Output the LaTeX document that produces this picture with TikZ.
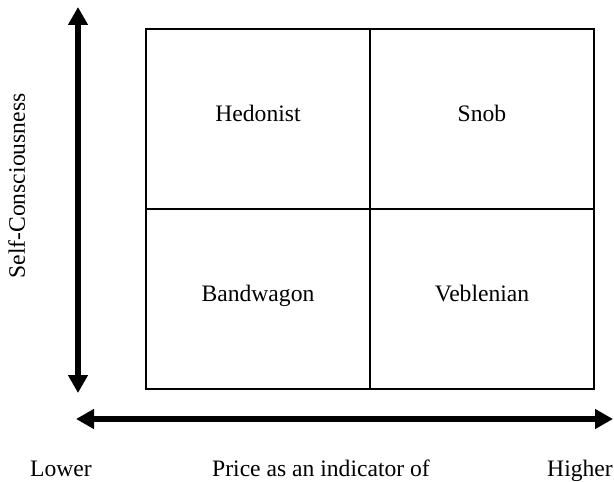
\documentclass[tikz,border=0pt]{standalone}
\usepackage{fontspec}
\setmainfont{Liberation Serif}
\usetikzlibrary{arrows.meta,positioning}

\begin{document}
\begin{tikzpicture}[x=0.5pt,y=-0.5pt,
    font=\fontsize{11.8}{14}\selectfont,
    cell/.style={draw,line width=0.9pt,minimum width=112pt,minimum height=90pt,
        inner sep=0pt,outer sep=0pt,text height=8pt,text depth=5.2pt},
    axis/.style={line width=3.2pt,{Triangle[length=9pt,width=9.5pt]}-{Triangle[length=9pt,width=9.5pt]}},
    label/.style={anchor=base,inner sep=0pt}]
    \useasboundingbox (0, 0) rectangle (614, 481);

    % quadrants
    \node[cell] (hedonist) at (258, 119) {Hedonist};
    \node[cell,right=0pt of hedonist] (snob) {Snob};
    \node[cell,below=0pt of hedonist] (bandwagon) {Bandwagon};
    \node[cell,right=0pt of bandwagon] (veblenian) {Veblenian};

    % vertical axis
    \coordinate (ytop) at (78, 7);
    \coordinate (ybot) at (78, 393);
    \draw[axis] (ybot) -- (ytop);
    \node[label,rotate=90] (selfc) at (25, 186) {Self-Consciousness};

    % horizontal axis
    \coordinate (xleft) at (76, 419);
    \coordinate (xright) at (613, 419);
    \draw[axis] (xleft) -- (xright);
    \node[label] (lower) at (61, 476) {Lower};
    \node[label] (price) at (321, 476) {Price as an indicator of};
    \node[label] (higher) at (580, 476) {Higher};
\end{tikzpicture}
\end{document}
